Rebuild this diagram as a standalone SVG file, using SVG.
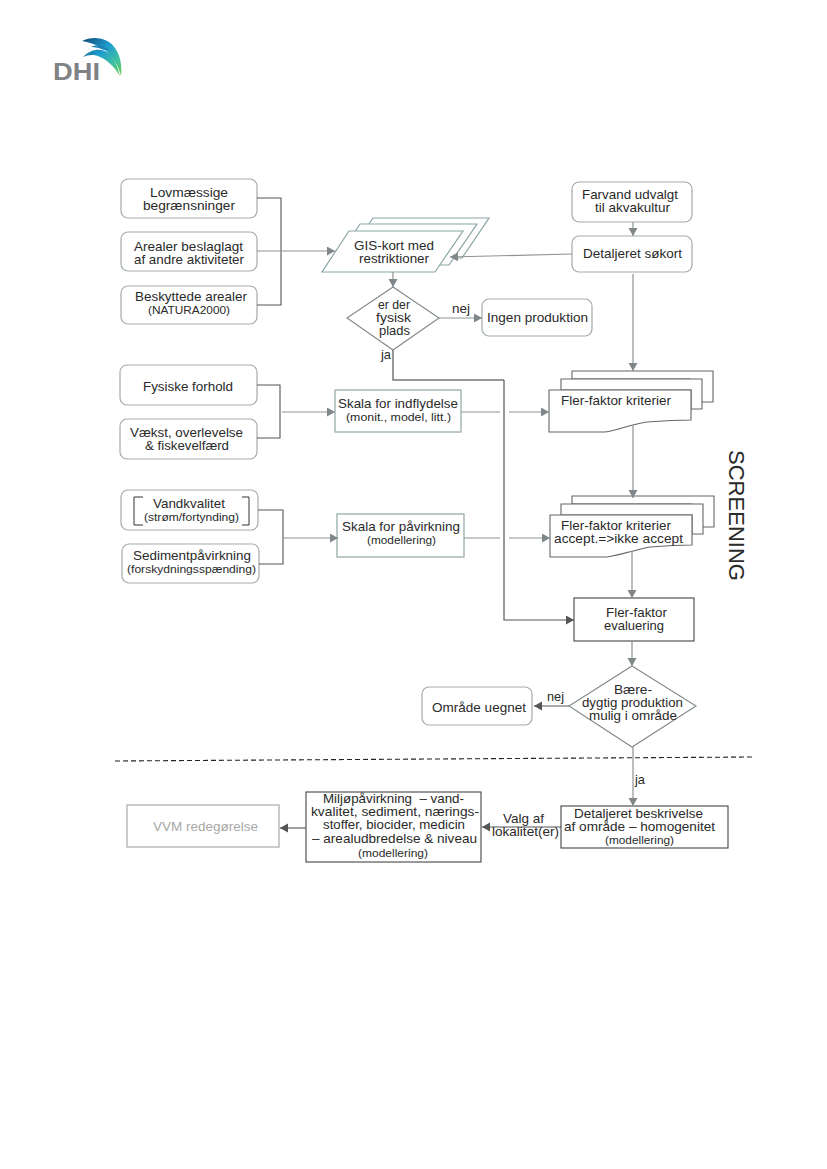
<svg xmlns="http://www.w3.org/2000/svg" width="827" height="1169" viewBox="0 0 827 1169">
<style>
text{font-family:"Liberation Sans",Arial,sans-serif;fill:#2a2a2a;font-size:13.2px;dominant-baseline:alphabetic}
.s{font-size:11.5px}
.rb{fill:#fff;stroke:#a3abab;stroke-width:1.2}
.tb{fill:#fff;stroke:#8fa5a5;stroke-width:1.2}
.db{fill:#fff;stroke:#444;stroke-width:1.1}
.gb{fill:#fff;stroke:#a0a4a4;stroke-width:1.1}
.gs{fill:#fff;stroke:#8ba5a5;stroke-width:1.2}
.dc{fill:#fff;stroke:#808888;stroke-width:1.1}
.ds{fill:#fff;stroke:#666;stroke-width:1.1}
.c{fill:none;stroke:#8f9393;stroke-width:1.2}
.k{fill:none;stroke:#555;stroke-width:1.1}
.a{marker-end:url(#ag)}
.ak{marker-end:url(#ad)}
</style>
<defs>
<marker id="ag" markerUnits="userSpaceOnUse" markerWidth="10" markerHeight="10" refX="8" refY="4.5" orient="auto"><path d="M0,0L8,4.5L0,9Z" fill="#80878a"/></marker>
<marker id="ad" markerUnits="userSpaceOnUse" markerWidth="10" markerHeight="10" refX="8" refY="4.5" orient="auto"><path d="M0,0L8,4.5L0,9Z" fill="#555"/></marker>
<linearGradient id="lg" gradientUnits="userSpaceOnUse" x1="85" y1="38" x2="122" y2="78"><stop offset="0" stop-color="#14527f"/><stop offset=".4" stop-color="#1f9ecf"/><stop offset=".7" stop-color="#3fc0a0"/><stop offset="1" stop-color="#6fcf4f"/></linearGradient>
</defs>
<g id="logo">
<path d="M82,41C90,37 101,37 109,42C118,48 123,62 121,76C118,64 111,53 102,48C95,44 88,42 82,41Z" fill="url(#lg)"/>
<path d="M83,57C90,49 102,47 110,54C115,59 118,68 120,76C114,66 107,60 100,57C94,54 88,55 83,57Z" fill="url(#lg)"/>
<path d="M91,47C97,44 103,45 109,50L104,50C100,48 95,47 91,47Z" fill="#1c85b8"/>
<text x="53" y="80" textLength="47" lengthAdjust="spacingAndGlyphs" style="font-size:23.5px;font-weight:700;fill:#808285">DHI</text>
</g>
<g id="n-lov"><rect class="rb" x="121" y="179" width="136" height="39" rx="7"/><text x="150" y="196.5" textLength="78" lengthAdjust="spacingAndGlyphs">Lovmæssige</text><text x="143" y="209.5" textLength="92" lengthAdjust="spacingAndGlyphs">begrænsninger</text></g>
<g id="n-arealer"><rect class="rb" x="121" y="232" width="136" height="39" rx="7"/><text x="134" y="250.5" textLength="109" lengthAdjust="spacingAndGlyphs">Arealer beslaglagt</text><text x="134" y="263.5" textLength="110" lengthAdjust="spacingAndGlyphs">af andre aktiviteter</text></g>
<g id="n-besk"><rect class="rb" x="121" y="286" width="136" height="38" rx="7"/><text x="135" y="301" textLength="112" lengthAdjust="spacingAndGlyphs">Beskyttede arealer</text><text class="s" x="148" y="314" textLength="82" lengthAdjust="spacingAndGlyphs">(NATURA2000)</text></g>
<g id="n-gis">
<path class="gs" d="M373,218H489L462,258H346Z"/>
<path class="gs" d="M360,224H477L449,265H333Z"/>
<path class="gs" d="M349,231H463L435,272H322Z"/>
<text x="354" y="249.5" textLength="80" lengthAdjust="spacingAndGlyphs">GIS-kort med</text><text x="359" y="262.5" textLength="70" lengthAdjust="spacingAndGlyphs">restriktioner</text>
</g>
<g id="n-farvand"><rect class="rb" x="572" y="182" width="120" height="40" rx="7"/><text x="582" y="198.5" textLength="96" lengthAdjust="spacingAndGlyphs">Farvand udvalgt</text><text x="595" y="211.5" textLength="75" lengthAdjust="spacingAndGlyphs">til akvakultur</text></g>
<g id="n-sokort"><rect class="rb" x="572" y="236" width="120" height="36" rx="7"/><text x="583" y="258" textLength="99" lengthAdjust="spacingAndGlyphs">Detaljeret søkort</text></g>
<g id="n-plads"><path class="dc" d="M393,287L439,318L393,350L347,318Z"/><text x="378" y="309" textLength="32" lengthAdjust="spacingAndGlyphs">er der</text><text x="376" y="322" textLength="35" lengthAdjust="spacingAndGlyphs">fysisk</text><text x="379" y="335" textLength="31" lengthAdjust="spacingAndGlyphs">plads</text></g>
<text x="381" y="359" textLength="10" lengthAdjust="spacingAndGlyphs">ja</text>
<text x="452" y="313" textLength="18" lengthAdjust="spacingAndGlyphs">nej</text>
<g id="n-ingen"><rect class="rb" x="482" y="299" width="110" height="37" rx="7"/><text x="487" y="322" textLength="101" lengthAdjust="spacingAndGlyphs">Ingen produktion</text></g>
<g id="n-fysiske"><rect class="rb" x="120" y="365" width="137" height="40" rx="7"/><text x="143" y="391" textLength="90" lengthAdjust="spacingAndGlyphs">Fysiske forhold</text></g>
<g id="n-vaekst"><rect class="rb" x="120" y="419" width="137" height="40" rx="7"/><text x="130" y="436.5" textLength="113" lengthAdjust="spacingAndGlyphs">Vækst, overlevelse</text><text x="145" y="449.5" textLength="84" lengthAdjust="spacingAndGlyphs">&amp; fiskevelfærd</text></g>
<g id="n-indfl"><rect class="tb" x="335" y="390" width="126" height="42"/><text x="338" y="408" textLength="120" lengthAdjust="spacingAndGlyphs">Skala for indflydelse</text><text class="s" x="346" y="421" textLength="105" lengthAdjust="spacingAndGlyphs">(monit., model, litt.)</text></g>
<g id="n-krit1">
<path class="ds" d="M572,371H713V402H690V379H572Z"/>
<path class="ds" d="M561,379H702V409H691V390H561Z"/>
<path class="ds" d="M549,390H691V420C675,420 660,421 647,422C632,424 618,430 605,432H549Z"/>
<text x="561" y="405" textLength="110" lengthAdjust="spacingAndGlyphs">Fler-faktor kriterier</text>
</g>
<g id="n-vand"><rect class="rb" x="121" y="490" width="137" height="40" rx="7"/><path d="M143,497H134V525H143M242,497H249V525H242" fill="none" stroke="#333" stroke-width="1"/><text x="153" y="508" textLength="72" lengthAdjust="spacingAndGlyphs">Vandkvalitet</text><text class="s" x="144" y="521" textLength="95" lengthAdjust="spacingAndGlyphs">(strøm/fortynding)</text></g>
<g id="n-sediment"><rect class="rb" x="122" y="544" width="137" height="39" rx="7"/><text x="133" y="560" textLength="118" lengthAdjust="spacingAndGlyphs">Sedimentpåvirkning</text><text class="s" x="127" y="573" textLength="129" lengthAdjust="spacingAndGlyphs">(forskydningsspænding)</text></g>
<g id="n-pavirk"><rect class="tb" x="337" y="514" width="127" height="43"/><text x="342" y="531" textLength="118" lengthAdjust="spacingAndGlyphs">Skala for påvirkning</text><text class="s" x="367" y="544" textLength="69" lengthAdjust="spacingAndGlyphs">(modellering)</text></g>
<g id="n-krit2">
<path class="ds" d="M572,496H714V527H692V504H572Z"/>
<path class="ds" d="M561,504H703V534H692V515H561Z"/>
<path class="ds" d="M550,515H692V545C678,545 662,546 650,547C635,550 620,555 607,557H550Z"/>
<text x="561" y="530" textLength="110" lengthAdjust="spacingAndGlyphs">Fler-faktor kriterier</text><text x="554" y="543" textLength="129" lengthAdjust="spacingAndGlyphs">accept.=&gt;ikke accept</text>
</g>
<g id="n-eval"><rect class="db" x="574" y="598" width="120" height="43"/><text x="606" y="617" textLength="61" lengthAdjust="spacingAndGlyphs">Fler-faktor</text><text x="604" y="630" textLength="60" lengthAdjust="spacingAndGlyphs">evaluering</text></g>
<g id="n-baere"><path class="dc" d="M632,666L696,706L632,747L569,706Z"/><text x="614" y="693.5" textLength="38" lengthAdjust="spacingAndGlyphs">Bære-</text><text x="582" y="706.5" textLength="101" lengthAdjust="spacingAndGlyphs">dygtig produktion</text><text x="589" y="719.5" textLength="88" lengthAdjust="spacingAndGlyphs">mulig i område</text></g>
<text x="547" y="701" textLength="17" lengthAdjust="spacingAndGlyphs">nej</text>
<g id="n-uegnet"><rect class="rb" x="422" y="687" width="110" height="38" rx="7"/><text x="432" y="712" textLength="94" lengthAdjust="spacingAndGlyphs">Område uegnet</text></g>
<text x="635" y="784" textLength="10" lengthAdjust="spacingAndGlyphs">ja</text>
<g id="n-beskriv"><rect class="db" x="561" y="806" width="167" height="42"/><text x="574" y="818" textLength="129" lengthAdjust="spacingAndGlyphs">Detaljeret beskrivelse</text><text x="564" y="831" textLength="151" lengthAdjust="spacingAndGlyphs">af område – homogenitet</text><text class="s" x="605" y="844" textLength="69" lengthAdjust="spacingAndGlyphs">(modellering)</text></g>
<g id="n-miljo"><rect class="db" x="306" y="792" width="175" height="70"/><text x="323" y="803" textLength="141" lengthAdjust="spacingAndGlyphs" xml:space="preserve">Miljøpåvirkning  – vand-</text><text x="311" y="816" textLength="168" lengthAdjust="spacingAndGlyphs">kvalitet, sediment, nærings-</text><text x="323" y="829" textLength="142" lengthAdjust="spacingAndGlyphs">stoffer, biocider, medicin</text><text x="312" y="843" textLength="165" lengthAdjust="spacingAndGlyphs">– arealudbredelse &amp; niveau</text><text class="s" x="358" y="857" textLength="70" lengthAdjust="spacingAndGlyphs">(modellering)</text></g>
<g id="n-vvm"><rect class="gb" x="127" y="805" width="152" height="42"/><text x="153" y="831" textLength="105" lengthAdjust="spacingAndGlyphs" style="fill:#a8a8a8">VVM redegørelse</text></g>
<text id="screening" transform="translate(729,450) rotate(90)" textLength="131" lengthAdjust="spacingAndGlyphs" style="font-size:22.8px">SCREENING</text>
<g id="connectors">
<path class="k" d="M257,198H281V305H257"/>
<path class="c a" d="M257,251H335"/>
<path class="c a" d="M572,254L450,257"/>
<path class="c a" d="M633,222V236"/>
<path class="c a" d="M633,274V371"/>
<path class="c a" d="M393,272V287"/>
<path class="c a" d="M439,318H482"/>
<path class="k" d="M393,350V380H504" style="stroke:#777;stroke-width:1.5"/>
<path class="k ak" d="M504,380V620H574" style="stroke-width:1.2"/>
<path class="k" d="M257,385H280V438H257"/>
<path class="c a" d="M282,412H335"/>
<path class="c" d="M461,412H500"/>
<path class="c a" d="M509,412H549"/>
<path class="k" d="M258,510H283V564H259"/>
<path class="c a" d="M283,538H338"/>
<path class="c" d="M464,538H500"/>
<path class="c a" d="M509,538H550"/>
<path class="c a" d="M633,425V498"/>
<path class="c a" d="M632,551V598"/>
<path class="c a" d="M632,641V666"/>
<path class="k ak" d="M569,706H534"/>
<path class="c a" d="M633,747V806"/>
<path class="k ak" d="M561,827H482"/>
<path class="k ak" d="M306,828H280"/>
<path d="M115,761L753,757" fill="none" stroke="#222" stroke-width="1.1" stroke-dasharray="5 3"/>
</g>
<text x="503" y="822.5" textLength="41" lengthAdjust="spacingAndGlyphs">Valg af</text>
<text x="492" y="836" textLength="67" lengthAdjust="spacingAndGlyphs">lokalitet(er)</text>
</svg>
